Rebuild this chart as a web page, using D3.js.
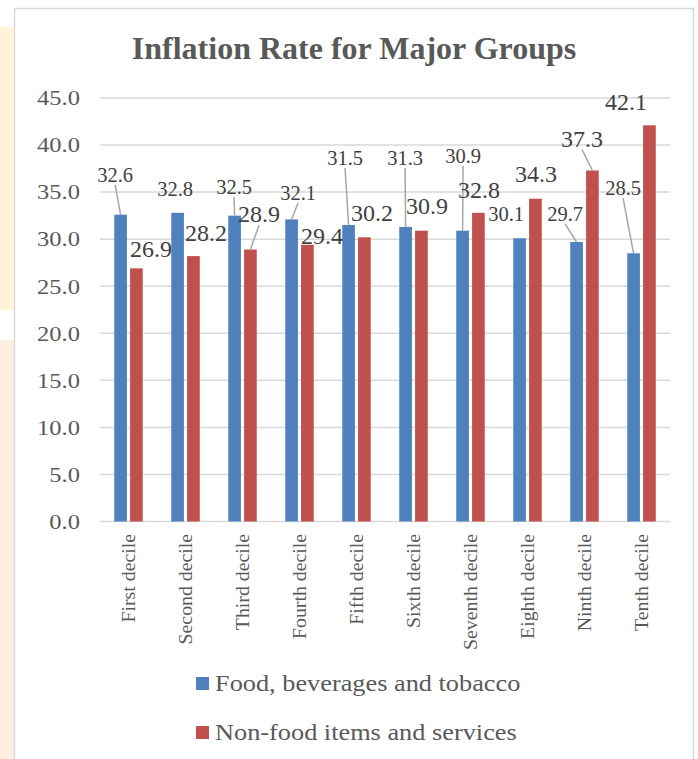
<!DOCTYPE html>
<html>
<head>
<meta charset="utf-8">
<script src="https://cdn.jsdelivr.net/npm/d3@7"></script>
<style>
  html, body { margin: 0; padding: 0; background: #ffffff; }
  svg { display: block; }
  text { font-family: "Liberation Serif", "Times New Roman", serif; }
</style>
</head>
<body>
<script>
// ---- data ----
const categories = ["First decile", "Second decile", "Third decile", "Fourth decile", "Fifth decile",
                    "Sixth decile", "Seventh decile", "Eighth decile", "Ninth decile", "Tenth decile"];
const seriesNames = ["Food, beverages and tobacco", "Non-food items and services"];
const foodValues = [32.6, 32.8, 32.5, 32.1, 31.5, 31.3, 30.9, 30.1, 29.7, 28.5];
const nonFoodValues = [26.9, 28.2, 28.9, 29.4, 30.2, 30.9, 32.8, 34.3, 37.3, 42.1];
const yTicks = [0, 5, 10, 15, 20, 25, 30, 35, 40, 45];
const chartTitle = "Inflation Rate for Major Groups";

// manual data-label placement (label centre relative to bar top, px), as moved in the original
const foodLabelOffset = [[-5.5,-39.7],[-2.5,-23.8],[-0.5,-28.6],[6.5,-26.4],[-3.5,-67],
                         [-0.5,-69],[0.5,-74.7],[-13.5,-24],[-11.5,-28],[-10.5,-65]];
const nonFoodLabelOffset = [[14.6,-19.8],[12.6,-23.5],[8.6,-35.5],[14.6,-8.8],[7.6,-24.3],
                            [5.6,-24.7],[0.6,-22.8],[0.6,-24.7],[-10.4,-32],[-23.4,-23.3]];

// ---- layout ----
const W = 698, H = 759;
const plot = { left: 100, right: 670, top: 98, bottom: 521.5 };
const colors = ["#4f81bd", "#c0504d"];
const textGray = "#595959", labelGray = "#404040";

const svg = d3.select("body").append("svg").attr("width", W).attr("height", H);

// page background fragments at left
svg.append("rect").attr("x", 0).attr("y", 27).attr("width", 14).attr("height", 283).attr("fill", "#fff4da");
svg.append("rect").attr("x", 0).attr("y", 340).attr("width", 14).attr("height", H - 340).attr("fill", "#fdeedf");
// chart area border
svg.append("rect").attr("x", 14.5).attr("y", 8.5).attr("width", 679).attr("height", H + 10)
  .attr("fill", "#ffffff").attr("stroke", "#d9d9d9").attr("stroke-width", 1.5);

// title
svg.append("text").attr("x", 354).attr("y", 59).attr("text-anchor", "middle")
  .attr("font-size", 32).attr("font-weight", "bold").attr("fill", textGray).text(chartTitle);

const y = d3.scaleLinear().domain([0, 45]).range([plot.bottom, plot.top]);
const x0 = d3.scaleBand().domain(categories).range([plot.left, plot.right]).paddingInner(0.5).paddingOuter(0.25);
const x1 = d3.scaleBand().domain([0, 1]).range([0, x0.bandwidth()]).paddingInner(0.2);

// gridlines
svg.append("g").selectAll("line").data(yTicks).join("line")
  .attr("x1", plot.left).attr("x2", plot.right)
  .attr("y1", d => y(d)).attr("y2", d => y(d))
  .attr("stroke", "#d9d9d9").attr("stroke-width", 1.5);

// y tick labels (stretched horizontally as in original)
const tickFs = 21.5;
svg.append("g").selectAll("text").data(yTicks).join("text")
  .attr("text-anchor", "end").attr("font-size", tickFs).attr("fill", textGray)
  .attr("transform", d => `translate(80,${y(d) + 0.34 * tickFs}) scale(1.14,1)`)
  .text(d => d.toFixed(1));

// bars
const series = [foodValues, nonFoodValues];
series.forEach((vals, s) => {
  svg.append("g").selectAll("rect").data(vals).join("rect")
    .attr("x", (d, i) => x0(categories[i]) + x1(s))
    .attr("width", x1.bandwidth())
    .attr("y", d => y(d))
    .attr("height", d => y(0) - y(d))
    .attr("fill", colors[s]);
});

// data labels with leader lines (drawn only when label was moved well away from its bar)
const labelSizes = [20.5, 24];
const offsets = [foodLabelOffset, nonFoodLabelOffset];
series.forEach((vals, s) => {
  const fs = labelSizes[s];
  const g = svg.append("g");
  vals.forEach((v, i) => {
    const bx = x0(categories[i]) + x1(s) + x1.bandwidth() / 2;
    const by = y(v);
    const [dx, dy] = offsets[s][i];
    const cx = bx + dx, cy = by + dy;
    const half = fs * 0.34;
    const gap = by - (cy + half);
    if (gap > 18) {
      g.append("line").attr("x1", cx).attr("y1", cy + half + 3).attr("x2", bx).attr("y2", by)
        .attr("stroke", "#a6a6a6").attr("stroke-width", 1.5);
    }
    g.append("text").attr("x", cx).attr("y", cy + half).attr("text-anchor", "middle")
      .attr("font-size", fs).attr("fill", labelGray).text(v.toFixed(1));
  });
});

// category labels (rotated)
const catFs = 18;
svg.append("g").selectAll("text").data(categories).join("text")
  .attr("text-anchor", "end").attr("font-size", catFs).attr("fill", textGray)
  .attr("transform", d => `translate(${x0(d) + x0.bandwidth() / 2 + 6.5},534) rotate(-90) scale(1.1,1)`)
  .text(d => d);

// legend
const legFs = 23.5;
const leg = svg.append("g");
seriesNames.forEach((name, s) => {
  const ly = 691 + s * 49;
  leg.append("rect").attr("x", 196).attr("y", ly - 14).attr("width", 13).attr("height", 13).attr("fill", colors[s]);
  leg.append("text").attr("font-size", legFs).attr("fill", textGray)
    .attr("transform", `translate(215,${ly}) scale(1.12,1)`).text(name);
});
</script>
</body>
</html>
